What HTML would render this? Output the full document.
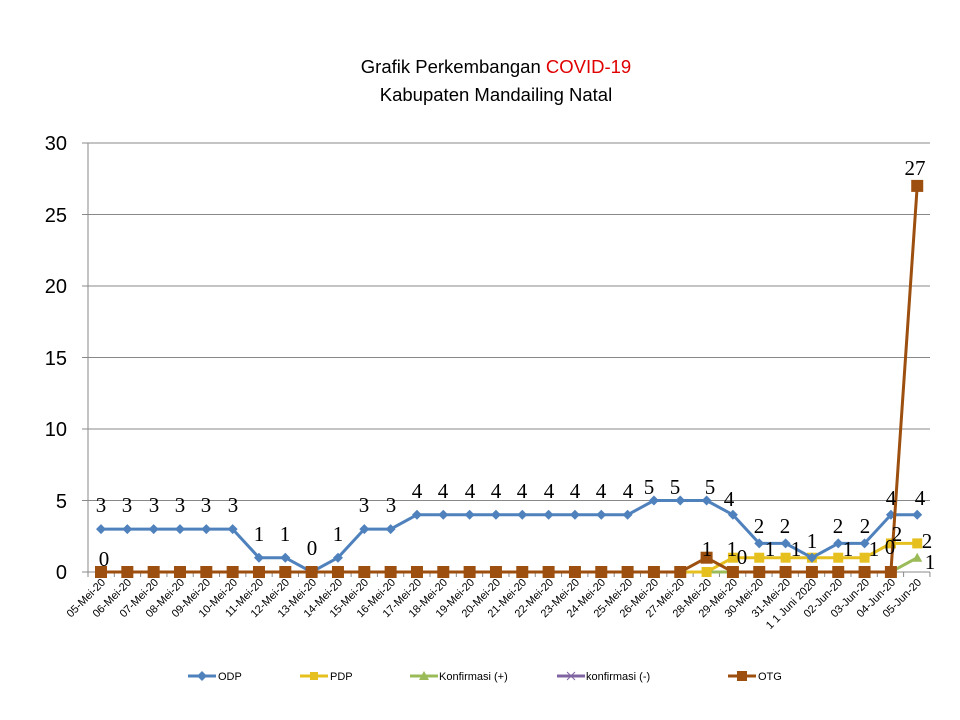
<!DOCTYPE html>
<html><head><meta charset="utf-8"><style>
body{margin:0;background:#fff}
svg{display:block;font-family:"Liberation Sans",sans-serif}
.dl{font-family:"Liberation Serif",serif;font-size:21px;text-anchor:middle;fill:#000}
.xl{font-size:11px;text-anchor:end}
</style></head><body>
<svg id="s" width="960" height="720" viewBox="0 0 960 720">
<text x="496" y="73" font-size="18.5" text-anchor="middle">Grafik Perkembangan <tspan fill="#e00000">COVID-19</tspan></text>
<text x="496" y="101" font-size="18.5" text-anchor="middle">Kabupaten Mandailing Natal</text>
<g stroke="#888" stroke-width="1">
<line x1="88" y1="143" x2="930" y2="143"/><line x1="88" y1="214.5" x2="930" y2="214.5"/>
<line x1="88" y1="286" x2="930" y2="286"/><line x1="88" y1="357.5" x2="930" y2="357.5"/>
<line x1="88" y1="429" x2="930" y2="429"/><line x1="88" y1="500.5" x2="930" y2="500.5"/>
<line x1="88" y1="572" x2="930" y2="572"/><line x1="88" y1="143" x2="88" y2="572"/>
<line x1="82" y1="143" x2="88" y2="143"/><line x1="82" y1="214.5" x2="88" y2="214.5"/><line x1="82" y1="286" x2="88" y2="286"/><line x1="82" y1="357.5" x2="88" y2="357.5"/><line x1="82" y1="429" x2="88" y2="429"/><line x1="82" y1="500.5" x2="88" y2="500.5"/><line x1="82" y1="572" x2="88" y2="572"/>
</g>
<g id="ticks" stroke="#888"></g>
<g font-size="20" text-anchor="end">
<text x="67" y="150">30</text><text x="67" y="222">25</text><text x="67" y="293">20</text>
<text x="67" y="365">15</text><text x="67" y="436">10</text><text x="67" y="508">5</text><text x="67" y="579">0</text>
</g>
<g id="series"></g>
<g class="xl">
<text transform="translate(106,583) rotate(-45)">05-Mei-20</text>
<text transform="translate(132,583) rotate(-45)">06-Mei-20</text>
<text transform="translate(159,583) rotate(-45)">07-Mei-20</text>
<text transform="translate(185,583) rotate(-45)">08-Mei-20</text>
<text transform="translate(211,583) rotate(-45)">09-Mei-20</text>
<text transform="translate(238,583) rotate(-45)">10-Mei-20</text>
<text transform="translate(264,583) rotate(-45)">11-Mei-20</text>
<text transform="translate(290,583) rotate(-45)">12-Mei-20</text>
<text transform="translate(317,583) rotate(-45)">13-Mei-20</text>
<text transform="translate(343,583) rotate(-45)">14-Mei-20</text>
<text transform="translate(369,583) rotate(-45)">15-Mei-20</text>
<text transform="translate(396,583) rotate(-45)">16-Mei-20</text>
<text transform="translate(422,583) rotate(-45)">17-Mei-20</text>
<text transform="translate(448,583) rotate(-45)">18-Mei-20</text>
<text transform="translate(475,583) rotate(-45)">19-Mei-20</text>
<text transform="translate(501,583) rotate(-45)">20-Mei-20</text>
<text transform="translate(527,583) rotate(-45)">21-Mei-20</text>
<text transform="translate(554,583) rotate(-45)">22-Mei-20</text>
<text transform="translate(580,583) rotate(-45)">23-Mei-20</text>
<text transform="translate(606,583) rotate(-45)">24-Mei-20</text>
<text transform="translate(633,583) rotate(-45)">25-Mei-20</text>
<text transform="translate(659,583) rotate(-45)">26-Mei-20</text>
<text transform="translate(685,583) rotate(-45)">27-Mei-20</text>
<text transform="translate(712,583) rotate(-45)">28-Mei-20</text>
<text transform="translate(738,583) rotate(-45)">29-Mei-20</text>
<text transform="translate(764,583) rotate(-45)">30-Mei-20</text>
<text transform="translate(791,583) rotate(-45)">31-Mei-20</text>
<text transform="translate(817,583) rotate(-45)">1 1 Juni 2020</text>
<text transform="translate(843,583) rotate(-45)">02-Jun-20</text>
<text transform="translate(870,583) rotate(-45)">03-Jun-20</text>
<text transform="translate(896,583) rotate(-45)">04-Jun-20</text>
<text transform="translate(922,583) rotate(-45)">05-Jun-20</text>
</g>
<g class="dl">
<text x="101" y="512">3</text><text x="127" y="512">3</text><text x="154" y="512">3</text><text x="180" y="512">3</text><text x="206" y="512">3</text><text x="233" y="512">3</text>
<text x="259" y="541">1</text><text x="285" y="541">1</text><text x="312" y="555">0</text><text x="338" y="541">1</text>
<text x="364" y="512">3</text><text x="391" y="512">3</text>
<text x="417" y="498">4</text><text x="443" y="498">4</text><text x="470" y="498">4</text><text x="496" y="498">4</text><text x="522" y="498">4</text><text x="549" y="498">4</text><text x="575" y="498">4</text><text x="601" y="498">4</text><text x="628" y="498">4</text>
<text x="649" y="494">5</text><text x="675" y="494">5</text><text x="710" y="494">5</text><text x="729" y="506">4</text>
<text x="759" y="533">2</text><text x="785" y="533">2</text><text x="812" y="548">1</text><text x="838" y="533">2</text><text x="865" y="533">2</text>
<text x="891" y="505">4</text><text x="920" y="505">4</text>
<text x="104" y="566">0</text><text x="707" y="556">1</text><text x="732" y="556">1</text><text x="742" y="564">0</text>
<text x="770" y="556">1</text><text x="796" y="556">1</text><text x="848" y="556">1</text><text x="874" y="556">1</text>
<text x="897" y="541">2</text><text x="927" y="548">2</text><text x="890" y="554">0</text><text x="930" y="569">1</text>
<text x="915" y="175">27</text>
</g>
<g font-size="11">
<line x1="188" y1="676" x2="216" y2="676" stroke="#4f81bd" stroke-width="3"/><path d="M202 671l5 5-5 5-5-5z" fill="#4f81bd"/><text x="218" y="680">ODP</text>
<line x1="300" y1="676" x2="328" y2="676" stroke="#e6c01f" stroke-width="3"/><rect x="310" y="672" width="8" height="8" fill="#e6c01f"/><text x="330" y="680">PDP</text>
<line x1="410" y1="676" x2="438" y2="676" stroke="#9bbb59" stroke-width="3"/><path d="M424 671l5 9h-10z" fill="#9bbb59"/><text x="439" y="680">Konfirmasi (+)</text>
<line x1="557" y1="676" x2="585" y2="676" stroke="#8064a2" stroke-width="3"/><path d="M567 672l8 8M575 672l-8 8" stroke="#8064a2"/><text x="586" y="680">konfirmasi (-)</text>
<line x1="728" y1="676" x2="756" y2="676" stroke="#9c4f0e" stroke-width="3"/><rect x="737" y="671" width="10" height="10" fill="#9c4f0e"/><text x="758" y="680">OTG</text>
</g>
</svg>
<script>
var X=i=>101+26.33*i, Y=v=>572-14.3*v, g=document.getElementById('series'), ns='http://www.w3.org/2000/svg';
var tk=document.getElementById('ticks');
for(var t=0;t<=32;t++){var l=document.createElementNS(ns,'line');var xx=88+26.31*t;l.setAttribute('x1',xx);l.setAttribute('x2',xx);l.setAttribute('y1',572);l.setAttribute('y2',577);tk.appendChild(l);}
function el(t,a){var e=document.createElementNS(ns,t);for(var k in a)e.setAttribute(k,a[k]);g.appendChild(e);return e;}
var z=n=>Array(n).fill(0);
var odp=[3,3,3,3,3,3,1,1,0,1,3,3,4,4,4,4,4,4,4,4,4,5,5,5,4,2,2,1,2,2,4,4];
var pdp=z(24).concat([1,1,1,1,1,1,2,2]);
var kp=z(31).concat([1]);
var otg=z(23).concat([1]).concat(z(7)).concat([27]);
function line(d,c,w){el('polyline',{points:d.map((v,i)=>X(i)+','+Y(v)).join(' '),fill:'none',stroke:c,'stroke-width':w});}
line(kp,'#9bbb59',3);el('path',{d:'M'+X(31)+' '+(Y(1)-5)+'l5 9h-10z',fill:'#9bbb59'});
line(pdp,'#e6c01f',3);pdp.forEach((v,i)=>el('rect',{x:X(i)-5,y:Y(v)-5,width:10,height:10,fill:'#e6c01f'}));
line(odp,'#4f81bd',3);odp.forEach((v,i)=>el('path',{d:'M'+X(i)+' '+(Y(v)-5)+'l5 5-5 5-5-5z',fill:'#4f81bd'}));
line(otg,'#9c4f0e',3);otg.forEach((v,i)=>{if(i==24)return;el('rect',{x:X(i)-6,y:Y(v)-6,width:12,height:12,fill:'#9c4f0e'})});
el('rect',{x:X(24)-6,y:Y(0)-6,width:12,height:12,fill:'#9c4f0e'});
</script>
</body></html>
